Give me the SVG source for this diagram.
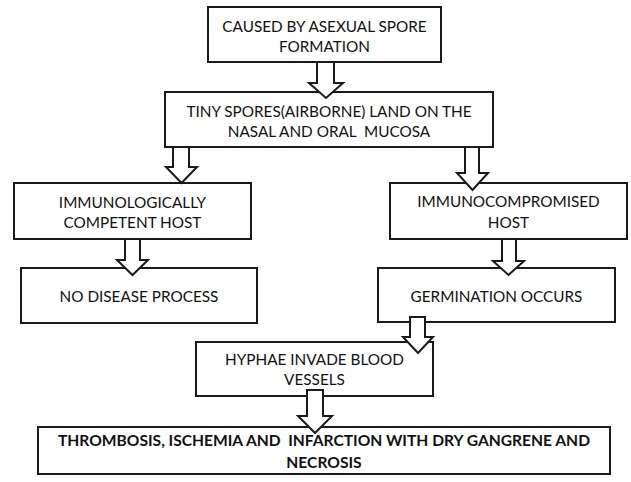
<svg xmlns="http://www.w3.org/2000/svg" width="631" height="482" viewBox="0 0 631 482">
<style>
.box{fill:#fff;stroke:#1a1a1a;stroke-width:2}
.arr{fill:#fff;stroke:#1a1a1a;stroke-width:2;stroke-linejoin:miter}
.t{font-family:Lato,"Open Sans","Liberation Sans",sans-serif;font-size:15.3px;fill:#111;text-anchor:middle}
.b{font-weight:bold;font-size:15.6px}
</style>
<rect width="631" height="482" fill="#fff"/>
<g id="n1"><rect class="box" x="208" y="7" width="233" height="55"/>
<text class="t" x="324.5" y="32">CAUSED BY ASEXUAL SPORE</text>
<text class="t" x="324.5" y="52">FORMATION</text></g>
<g id="n2"><rect class="box" x="165" y="92" width="328" height="55"/>
<text class="t" x="329" y="117">TINY SPORES(AIRBORNE) LAND ON THE</text>
<text class="t" x="329" y="137" xml:space="preserve">NASAL AND ORAL  MUCOSA</text></g>
<g id="n3"><rect class="box" x="14" y="183" width="237" height="56"/>
<text class="t" x="132.5" y="208">IMMUNOLOGICALLY</text>
<text class="t" x="132.5" y="228">COMPETENT HOST</text></g>
<g id="n4"><rect class="box" x="390" y="183" width="237" height="56"/>
<text class="t" x="508.5" y="207">IMMUNOCOMPROMISED</text>
<text class="t" x="508.5" y="228">HOST</text></g>
<g id="n5"><rect class="box" x="21" y="268" width="236" height="55"/>
<text class="t" x="139" y="302">NO DISEASE PROCESS</text></g>
<g id="n6"><rect class="box" x="378" y="268" width="237" height="54"/>
<text class="t" x="496.5" y="302">GERMINATION OCCURS</text></g>
<g id="n7"><rect class="box" x="196" y="342" width="237" height="54"/>
<text class="t" x="314.5" y="365">HYPHAE INVADE BLOOD</text>
<text class="t" x="314.5" y="385">VESSELS</text></g>
<g id="n8"><rect class="box" x="38" y="427" width="572" height="47"/>
<text class="t b" x="324" y="446" xml:space="preserve" textLength="532" lengthAdjust="spacingAndGlyphs">THROMBOSIS, ISCHEMIA AND  INFARCTION WITH DRY GANGRENE AND</text>
<text class="t b" x="324" y="468">NECROSIS</text></g>
<g id="connectors">
<polygon class="arr" points="317,62 334,62 334,83 343,83 326,98 309,83 317,83"/>
<polygon class="arr" points="173,147 189,147 189,167 197,167 181.5,183 166,167 173,167"/>
<polygon class="arr" points="465,147 479,147 479,173 488,173 472.5,190 457,173 465,173"/>
<polygon class="arr" points="125,239 140,239 140,260 148,260 132.5,275 117,260 125,260"/>
<polygon class="arr" points="502,239 516,239 516,261 524,261 508.5,275 493,261 502,261"/>
<polygon class="arr" points="410,317 425,317 425,337 433,337 418,353 403,337 410,337"/>
<polygon class="arr" points="307,390 323,390 323,416 332,416 315,433 298,416 307,416"/>
</g>
</svg>
